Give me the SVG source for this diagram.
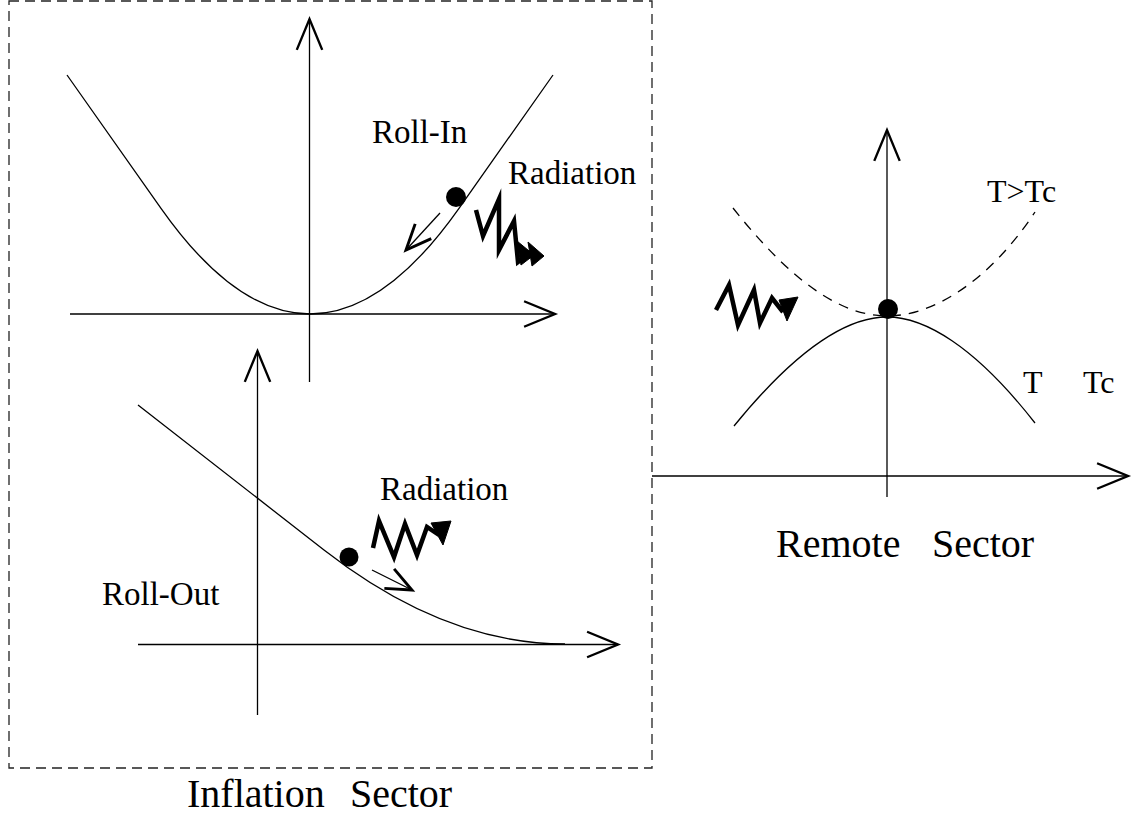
<svg xmlns="http://www.w3.org/2000/svg" width="1140" height="818" viewBox="0 0 1140 818">
<style>
.ax{fill:none;stroke:#000;stroke-width:1.3}
.cv{fill:none;stroke:#000;stroke-width:1.3}
.zz{fill:none;stroke:#000;stroke-width:4.5;stroke-linejoin:miter;stroke-miterlimit:5}
.hd{fill:#000;stroke:#000;stroke-width:1;stroke-linejoin:miter}
.t{font-family:"Liberation Serif","Times New Roman",serif;fill:#000}
</style>
<defs>
<marker id="open" markerUnits="userSpaceOnUse" markerWidth="40" markerHeight="40" refX="0" refY="0" viewBox="-20 -10 22 20" orient="auto" overflow="visible">
<path d="M -17 -7 L 0 0 L -17 7" fill="none" stroke="#000" stroke-width="1.3"/>
</marker>
<marker id="small" markerUnits="userSpaceOnUse" markerWidth="40" markerHeight="40" refX="0" refY="0" viewBox="-20 -10 22 20" orient="auto" overflow="visible">
<path d="M -14 -6 L 0 0 L -14 6" fill="none" stroke="#000" stroke-width="1.6"/>
</marker>
</defs>
<rect width="1140" height="818" fill="#fff"/>
<g id="inflation-box">
<path d="M 9 1 H 652 V 768 H 9 Z" fill="none" stroke="#222" stroke-width="1.3" stroke-dasharray="10 6"/>
</g>
<g id="roll-in-plot">
<line class="ax" x1="309.5" y1="382" x2="309.5" y2="19" marker-end="url(#open)"/>
<line class="ax" x1="70" y1="314" x2="555" y2="314" marker-end="url(#open)"/>
<path class="cv" d="M 67 75 L 161 208.3 Q 310 419.7 459 208.3 L 553 75"/>
<circle cx="456" cy="197" r="10"/>
<line class="ax" stroke-width="1.6" x1="440" y1="213" x2="406" y2="250" marker-end="url(#small)"/>
<polyline class="zz" points="476,210 483,236 499,199 499,250 514,221 518,262 526,256"/>
<polygon class="hd" points="517,241 521,265 534,255"/>
<polygon class="hd" points="528,242 532,266 544,256"/>
<text class="t" x="372" y="143" font-size="33">Roll-In</text>
<text class="t" x="508" y="184" font-size="33">Radiation</text>
</g>
<g id="roll-out-plot">
<line class="ax" x1="257.5" y1="715" x2="257.5" y2="351" marker-end="url(#open)"/>
<line class="ax" x1="138" y1="644.5" x2="618" y2="644.5" marker-end="url(#open)"/>
<path class="cv" d="M 138 405 L 324 550 Q 444.5 644 565 644"/>
<circle cx="349" cy="557" r="9.5"/>
<line class="ax" stroke-width="1.6" x1="372" y1="570" x2="412" y2="590" marker-end="url(#small)"/>
<polyline class="zz" points="373,548 379,521 394,557 405,524 417,555 427,527 439,535"/>
<polygon class="hd" points="451,521 431,523 443,545"/>
<text class="t" x="380" y="500" font-size="33">Radiation</text>
<text class="t" x="102" y="605" font-size="33">Roll-Out</text>
</g>
<g id="remote-plot">
<line class="ax" x1="887" y1="497" x2="887" y2="130" marker-end="url(#open)"/>
<line class="ax" x1="652" y1="476" x2="1128" y2="476" marker-end="url(#open)"/>
<path class="cv" d="M 734 426 C 800 345, 850 317, 887 317 C 924 317, 974 345, 1035 423"/>
<path class="cv" stroke-dasharray="10 8" d="M 733 208 C 790 280, 840 316, 887 316 C 934 316, 990 280, 1035 212"/>
<circle cx="888" cy="309" r="10"/>
<polyline class="zz" points="716,310 729,285 738,325 754,290 760,323 772,298 783,312"/>
<polygon class="hd" points="798,297 779,300 787,321"/>
<text class="t" x="987" y="202" font-size="32">T&gt;Tc</text>
<text class="t" x="1023" y="393" font-size="32">T</text>
<text class="t" x="1083" y="393" font-size="32">Tc</text>
</g>
<g id="labels">
<text class="t" y="557" font-size="40"><tspan x="776">Remote</tspan><tspan x="932">Sector</tspan></text>
<text class="t" y="807" font-size="40"><tspan x="187">Inflation</tspan><tspan x="350">Sector</tspan></text>
</g>
</svg>
